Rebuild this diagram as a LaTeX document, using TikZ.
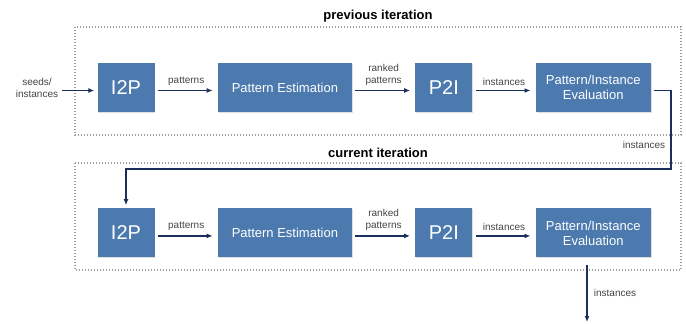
\documentclass[tikz,border=0pt]{standalone}
\usepackage{fontspec}
\setmainfont{Liberation Sans}
\usetikzlibrary{arrows.meta,positioning,shadows}
\definecolor{boxblue}{HTML}{4C7AAE}
\definecolor{arrnavy}{HTML}{1C2F5C}
\definecolor{lblgray}{HTML}{444444}

\begin{document}
\begin{tikzpicture}[
  x=1pt, y=1pt,
  node distance=96pt and 63pt,
  stage/.style={rectangle, fill=boxblue, text=white, minimum height=49pt, inner sep=2pt, align=center,
    drop shadow={shadow xshift=0.8pt, shadow yshift=-0.8pt, opacity=0.25}},
  small/.style={stage, minimum width=57pt, font=\fontsize{20}{22}\selectfont},
  wide/.style={stage, font=\fontsize{13}{15}\selectfont},
  lbl/.style={text=lblgray, font=\fontsize{10}{11.5}\selectfont, align=center},
  ttl/.style={font=\bfseries\fontsize{13}{15}\selectfont},
  frame/.style={draw=gray!75, line width=1.1pt, dash pattern=on 1.1pt off 1.9pt},
  arr/.style={-{Latex[length=6pt, width=5pt]}, draw=arrnavy, line width=1.2pt},
  link/.style={arr, shorten <=3pt, shorten >=5pt}
]
  \useasboundingbox (0,0) rectangle (686,-324);

  % Frames
  \draw[frame] (75,-27) rectangle (681,-135);
  \draw[frame] (75,-163) rectangle (681,-270);
  \node[ttl] (prevtitle) at (378,-16) {previous iteration};
  \node[ttl] (curtitle) at (378,-153) {current iteration};

  % Previous iteration
  \node[small] (i2pA) at (126,-87.5) {I2P};
  \node[wide, minimum width=134pt, right=of i2pA] (estA) {Pattern Estimation};
  \node[small, right=of estA] (p2iA) {P2I};
  \node[wide, minimum width=115pt, right=of p2iA] (evalA) {Pattern/Instance\\Evaluation};

  % Current iteration
  \node[small, below=of i2pA] (i2pB) {I2P};
  \node[wide, minimum width=134pt, right=of i2pB] (estB) {Pattern Estimation};
  \node[small, right=of estB] (p2iB) {P2I};
  \node[wide, minimum width=115pt, right=of p2iB] (evalB) {Pattern/Instance\\Evaluation};

  % Input and output
  \node[lbl] (seeds) at (37,-88) {seeds/\\instances};
  \coordinate (turn) at (671,-169);
  \coordinate (out) at (587,-322);

  % Arrows
  \draw[arr, shorten >=3pt] ([yshift=-3pt]seeds.east |- i2pA) -- ([yshift=-3pt]i2pA.west);
  \draw[link] ([yshift=-3pt]i2pA.east) -- node[lbl, above=1pt] {patterns} ([yshift=-3pt]estA.west);
  \draw[link] ([yshift=-3pt]estA.east) -- node[lbl, above=1pt, font=\fontsize{10}{12}\selectfont] {ranked\\patterns} ([yshift=-3pt]p2iA.west);
  \draw[link] ([yshift=-3pt]p2iA.east) -- node[lbl, above=1pt] {instances} ([yshift=-3pt]evalA.west);
  \draw[arr, shorten <=3pt, shorten >=3pt] ([yshift=-3pt]evalA.east) -| (turn) -| (i2pB.north);
  \node[lbl] (fbl) at (644,-145) {instances};

  \draw[link] ([yshift=-3pt]i2pB.east) -- node[lbl, above=1pt] {patterns} ([yshift=-3pt]estB.west);
  \draw[link] ([yshift=-3pt]estB.east) -- node[lbl, above=1pt, font=\fontsize{10}{12}\selectfont] {ranked\\patterns} ([yshift=-3pt]p2iB.west);
  \draw[link] ([yshift=-3pt]p2iB.east) -- node[lbl, above=1pt] {instances} ([yshift=-3pt]evalB.west);
  \draw[arr, shorten <=7pt] (evalB.south -| out) -- node[lbl, right=3pt, pos=0.55] {instances} (out);
\end{tikzpicture}
\end{document}
